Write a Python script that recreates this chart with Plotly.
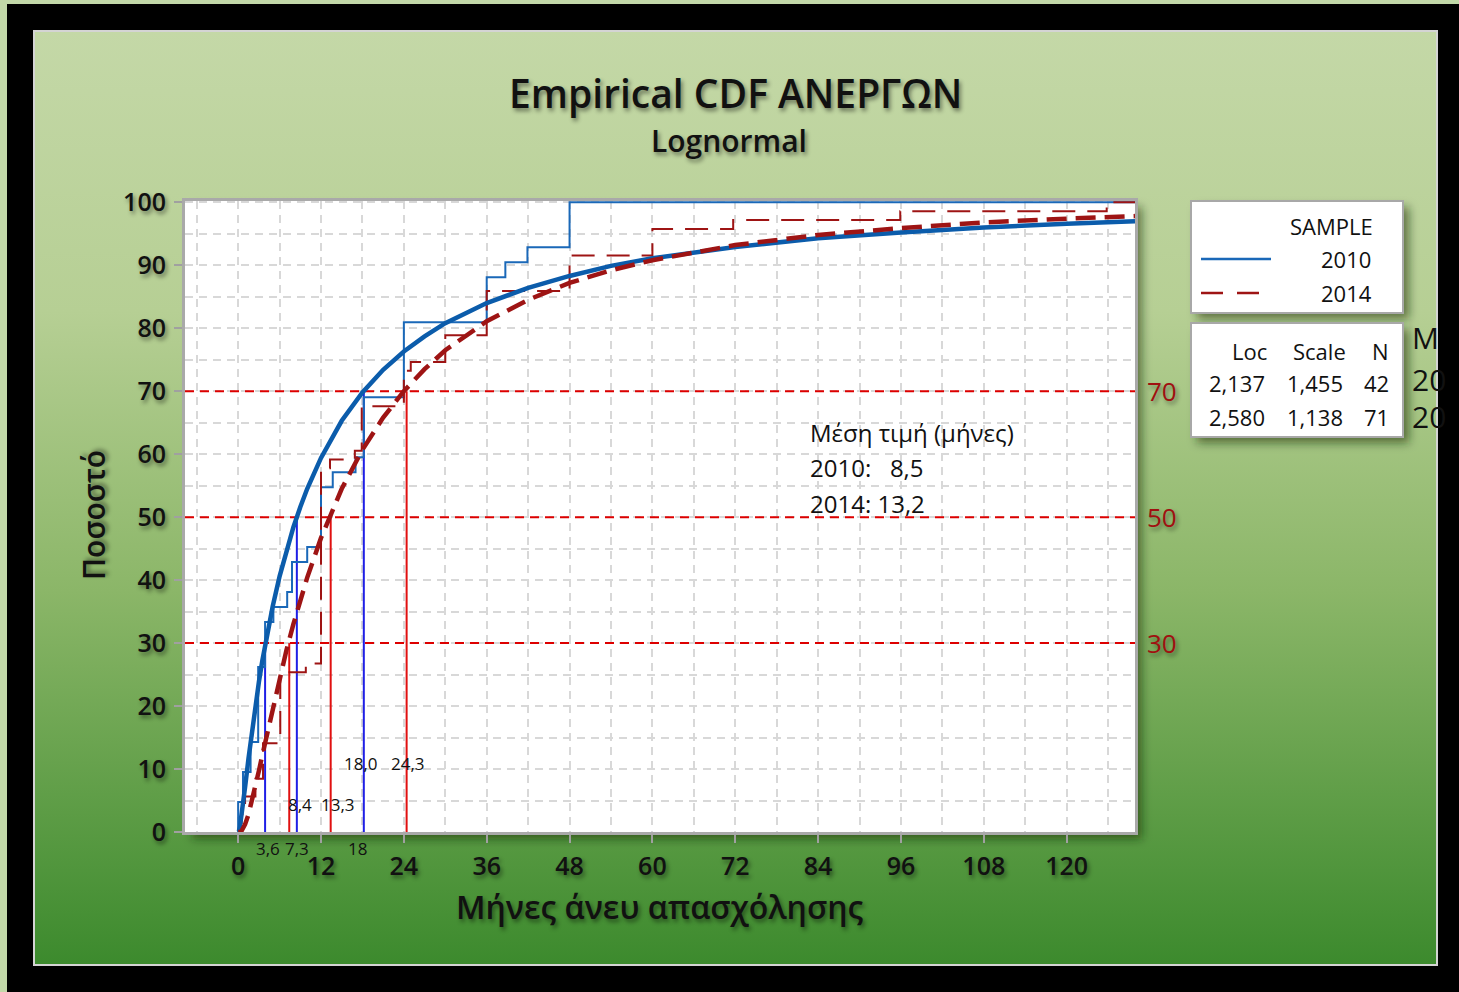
import base64
import plotly.graph_objects as go

# axis extents
X_RANGE = [-7.7, 129.9]
Y_RANGE = [0, 100.2]

# fitted lognormal curves
fit_x = [0, 0.1, 0.25, 0.5, 0.75, 1, 1.5, 2, 2.5, 3, 3.5, 4, 5, 6, 7, 8, 9, 10, 12, 14, 15, 18,
         21, 24, 27, 30, 36, 42, 48, 54, 60, 72, 84, 96, 108, 120, 129.9]
fit_2010 = [0, 0.1, 0.8, 2.6, 4.8, 7.1, 11.7, 16.1, 20.1, 23.8, 27.2, 30.3, 35.8, 40.6, 44.8, 48.4,
            51.6, 54.5, 59.4, 63.5, 65.3, 69.8, 73.4, 76.3, 78.7, 80.8, 84.0, 86.4, 88.3, 89.9,
            91.1, 92.9, 94.3, 95.2, 96.0, 96.6, 97.0]
fit_2014 = [0, 0, 0, 0.2, 0.6, 1.2, 2.8, 4.9, 7.2, 9.7, 12.2, 14.7, 19.7, 24.4, 28.9, 33.0, 36.8,
            40.4, 46.7, 52.1, 54.5, 60.7, 65.8, 70.0, 73.5, 76.5, 81.1, 84.5, 87.2, 89.2, 90.8,
            93.2, 94.8, 95.9, 96.8, 97.4, 97.8]

# empirical CDF steps
emp_x_2010 = [0, 0, 0.7, 1.8, 2.9, 3.9, 5.1, 7.1, 7.8, 10, 12, 13.7, 17, 18.2, 24, 36, 38.7, 41.9, 48, 129.9]
emp_y_2010 = [0, 4.76, 9.52, 14.29, 26.19, 33.33, 35.71, 38.10, 42.86, 45.24, 54.76, 57.14, 59.52,
              69.05, 80.95, 88.10, 90.48, 92.86, 100, 100]
emp_x_2014 = [0, 0.3, 0.5, 1, 2.5, 3.6, 6.1, 9.8, 12, 13.3, 16.9, 17.9, 24, 25, 30, 36, 48, 60, 71.7,
              95.9, 125.8, 129.9]
emp_y_2014 = [0, 1.41, 2.82, 5.63, 8.45, 14.08, 25.35, 26.76, 57.75, 59.15, 60.56, 67.61, 73.24,
              74.65, 78.87, 85.92, 91.55, 95.77, 97.18, 98.59, 100, 100]

# percentile markers
levels = [30, 50, 70]
q_2010 = [3.9, 8.5, 18.2]
q_2014 = [7.4, 13.4, 24.4]
q_labels_inside = [("8,4", 9.0, 4.4), ("13,3", 14.5, 4.4), ("18,0", 17.8, 10.8), ("24,3", 24.6, 10.8)]
q_labels_below = [("3,6", 4.3), ("7,3", 8.5), ("18", 17.3)]

mean_title = "Μέση τιμή (μήνες)"
mean_rows = ["2010:   8,5", "2014: 13,2"]

stats_header = ["Loc", "Scale", "N"]
stats_rows = [["2,137", "1,455", "42"], ["2,580", "1,138", "71"]]

BLUE_FIT = "#0b5cab"
BLUE_STEP = "#1a68b8"
RED_FIT = "#9e1414"
FONT = "Open Sans"
SHADOW = "2px 3px 4px rgba(0,0,0,0.45)"


def px(v):
    return (v - 185) / 950


def py(v):
    return (832 - v) / 631


# background panel: black frame + green gradient + drop shadows
svg = """<svg xmlns='http://www.w3.org/2000/svg' width='1459' height='992' viewBox='0 0 1459 992' preserveAspectRatio='none'>
<defs>
<linearGradient id='g' x1='0' y1='0' x2='0' y2='1'>
<stop offset='0' stop-color='#c4d8a7'/><stop offset='0.3' stop-color='#b6cf94'/>
<stop offset='0.6' stop-color='#8bb668'/><stop offset='1' stop-color='#3c8a2d'/>
</linearGradient>
<filter id='b' x='-10%' y='-10%' width='120%' height='120%'><feGaussianBlur stdDeviation='5'/></filter>
</defs>
<rect width='1459' height='992' fill='#c2d8a8'/>
<rect x='7' y='4' width='1452' height='988' fill='#000'/>
<rect x='34' y='31' width='1403' height='934' fill='url(#g)' stroke='#d4d4d4' stroke-width='2'/>
<g filter='url(#b)' fill='rgba(20,40,10,0.55)'>
<rect x='192' y='207' width='950' height='632'/>
<rect x='1197' y='207' width='212' height='112'/>
<rect x='1197' y='329' width='212' height='114'/>
</g>
</svg>"""
bg_src = "data:image/svg+xml;base64," + base64.b64encode(svg.encode("utf-8")).decode("ascii")

fig = go.Figure()

# reference levels
for lv in levels:
    fig.add_trace(go.Scatter(x=X_RANGE, y=[lv, lv], mode="lines",
                             line=dict(color="#dd0000", width=2, dash="9px,6px"),
                             showlegend=False, hoverinfo="skip"))

# percentile verticals
for lv, q in zip(levels, q_2010):
    fig.add_trace(go.Scatter(x=[q, q], y=[0, lv], mode="lines", line=dict(color="#1f1fe6", width=2),
                             showlegend=False, hoverinfo="skip"))
for lv, q in zip(levels, q_2014):
    fig.add_trace(go.Scatter(x=[q, q], y=[0, lv], mode="lines", line=dict(color="#e01010", width=2),
                             showlegend=False, hoverinfo="skip"))

# empirical CDFs
fig.add_trace(go.Scatter(x=emp_x_2010, y=emp_y_2010, mode="lines", line_shape="hv",
                         line=dict(color=BLUE_STEP, width=2), name="2010 empirical", showlegend=False))
fig.add_trace(go.Scatter(x=emp_x_2014, y=emp_y_2014, mode="lines", line_shape="hv",
                         line=dict(color=RED_FIT, width=2, dash="23px,12px"), name="2014 empirical",
                         showlegend=False))

# fitted curves
fig.add_trace(go.Scatter(x=fit_x, y=fit_2010, mode="lines", line=dict(color=BLUE_FIT, width=4.5),
                         name="2010", showlegend=False))
fig.add_trace(go.Scatter(x=fit_x, y=fit_2014, mode="lines", line=dict(color=RED_FIT, width=4.5, dash="20px,9px"),
                         name="2014", showlegend=False))

# plot area + legend boxes (drawn over the background image)
fig.add_shape(type="rect", xref="paper", yref="paper", x0=0, x1=1, y0=0, y1=1,
              fillcolor="white", line=dict(width=0), layer="below")
for top, bottom in [(201, 313), (323, 437)]:
    fig.add_shape(type="rect", xref="paper", yref="paper", x0=px(1191), x1=px(1403), y0=py(bottom), y1=py(top),
                  fillcolor="white", line=dict(color="#a8a8a8", width=2), layer="below")
fig.add_shape(type="line", xref="paper", yref="paper", x0=px(1201), x1=px(1271), y0=py(259), y1=py(259),
              line=dict(color=BLUE_STEP, width=2.5))
fig.add_shape(type="line", xref="paper", yref="paper", x0=px(1201), x1=px(1259), y0=py(293), y1=py(293),
              line=dict(color=RED_FIT, width=2.5, dash="22px,14px"))

ann = []
ann.append(dict(text="Empirical CDF ΑΝΕΡΓΩΝ", x=px(735), y=py(92), font=dict(size=39, weight=600, shadow=SHADOW)))
ann.append(dict(text="Lognormal", x=px(729), y=py(140), font=dict(size=30, weight=600, shadow=SHADOW)))
ann.append(dict(text="Μήνες άνευ απασχόλησης", x=px(660), y=py(906), font=dict(size=32, weight=600, shadow=SHADOW)))
ann.append(dict(text="Ποσοστό", x=px(93), y=py(515), textangle=-90, font=dict(size=30, weight=600, shadow=SHADOW)))

for lv in levels:
    ann.append(dict(text=str(lv), xref="paper", yref="y", x=px(1145), y=lv, xanchor="left",
                    font=dict(size=26, color="#a01010", shadow=SHADOW)))

for t, xv, yv in q_labels_inside:
    ann.append(dict(text=t, xref="x", yref="y", x=xv, y=yv, font=dict(size=17)))
for t, xv in q_labels_below:
    ann.append(dict(text=t, xref="x", yref="paper", x=xv, y=py(848), font=dict(size=17)))

ann.append(dict(text=mean_title, x=px(808), y=py(432), xanchor="left", font=dict(size=24)))
for i, row in enumerate(mean_rows):
    ann.append(dict(text=row, x=px(808), y=py(467 + 36 * i), xanchor="left", font=dict(size=24)))

# legend box texts
ann.append(dict(text="SAMPLE", x=px(1331), y=py(226), font=dict(size=22, weight=500)))
ann.append(dict(text="2010", x=px(1346), y=py(259), font=dict(size=22)))
ann.append(dict(text="2014", x=px(1346), y=py(293), font=dict(size=22)))

col_x = [1249, 1319, 1380]
row_col_x = [1237, 1315, 1376]
for h, cx in zip(stats_header, col_x):
    ann.append(dict(text=h, x=px(cx), y=py(351), font=dict(size=22, weight=500)))
for r, row in enumerate(stats_rows):
    for v, cx in zip(row, row_col_x):
        ann.append(dict(text=v, x=px(cx), y=py(383 + 34 * r), font=dict(size=22)))

# clipped column outside the stats box
for t, yv in [("M", 337), ("20", 379), ("20", 416)]:
    ann.append(dict(text=t, x=px(1410), y=py(yv), xanchor="left", font=dict(size=30)))

for a in ann:
    a.setdefault("xref", "paper")
    a.setdefault("yref", "paper")
    a.setdefault("showarrow", False)
    a.setdefault("xanchor", "center")
    a.setdefault("yanchor", "middle")
    a["font"].setdefault("family", FONT)
    a["font"].setdefault("color", "#111111")

grid_style = dict(gridcolor="#d8d8d8", gridwidth=2, griddash="8px,6px")

fig.update_layout(
    width=1459,
    height=992,
    margin=dict(l=185, r=324, t=201, b=160),
    paper_bgcolor="black",
    plot_bgcolor="white",
    font=dict(family=FONT, color="#111111"),
    showlegend=False,
    annotations=ann,
    images=[dict(source=bg_src, xref="paper", yref="paper", x=-185 / 950, y=1 + 201 / 631,
                 sizex=1459 / 950, sizey=992 / 631, xanchor="left", yanchor="top",
                 sizing="stretch", layer="below")],
    xaxis=dict(range=X_RANGE, tick0=0, dtick=12, ticks="outside", ticklen=8, tickwidth=2,
               tickcolor="#a0a0a0", showline=True, mirror=True, linecolor="#a9a9a9", linewidth=3,
               zeroline=False, layer="below traces", ticklabelstandoff=2,
               tickfont=dict(size=25, weight=600, shadow=SHADOW),
               minor=dict(tick0=0, dtick=6, showgrid=True, **grid_style), **grid_style),
    yaxis=dict(range=Y_RANGE, tick0=0, dtick=10, ticks="outside", ticklen=8, tickwidth=2,
               tickcolor="#a0a0a0", showline=True, mirror=True, linecolor="#a9a9a9", linewidth=3,
               zeroline=False, layer="below traces", ticklabelstandoff=3,
               tickfont=dict(size=25, weight=600, shadow=SHADOW),
               minor=dict(tick0=0, dtick=5, showgrid=True, **grid_style), **grid_style),
)

fig.write_html("out.html", config={"displayModeBar": False},
               post_script="document.body.style.margin='0';document.body.style.overflow='hidden';")
